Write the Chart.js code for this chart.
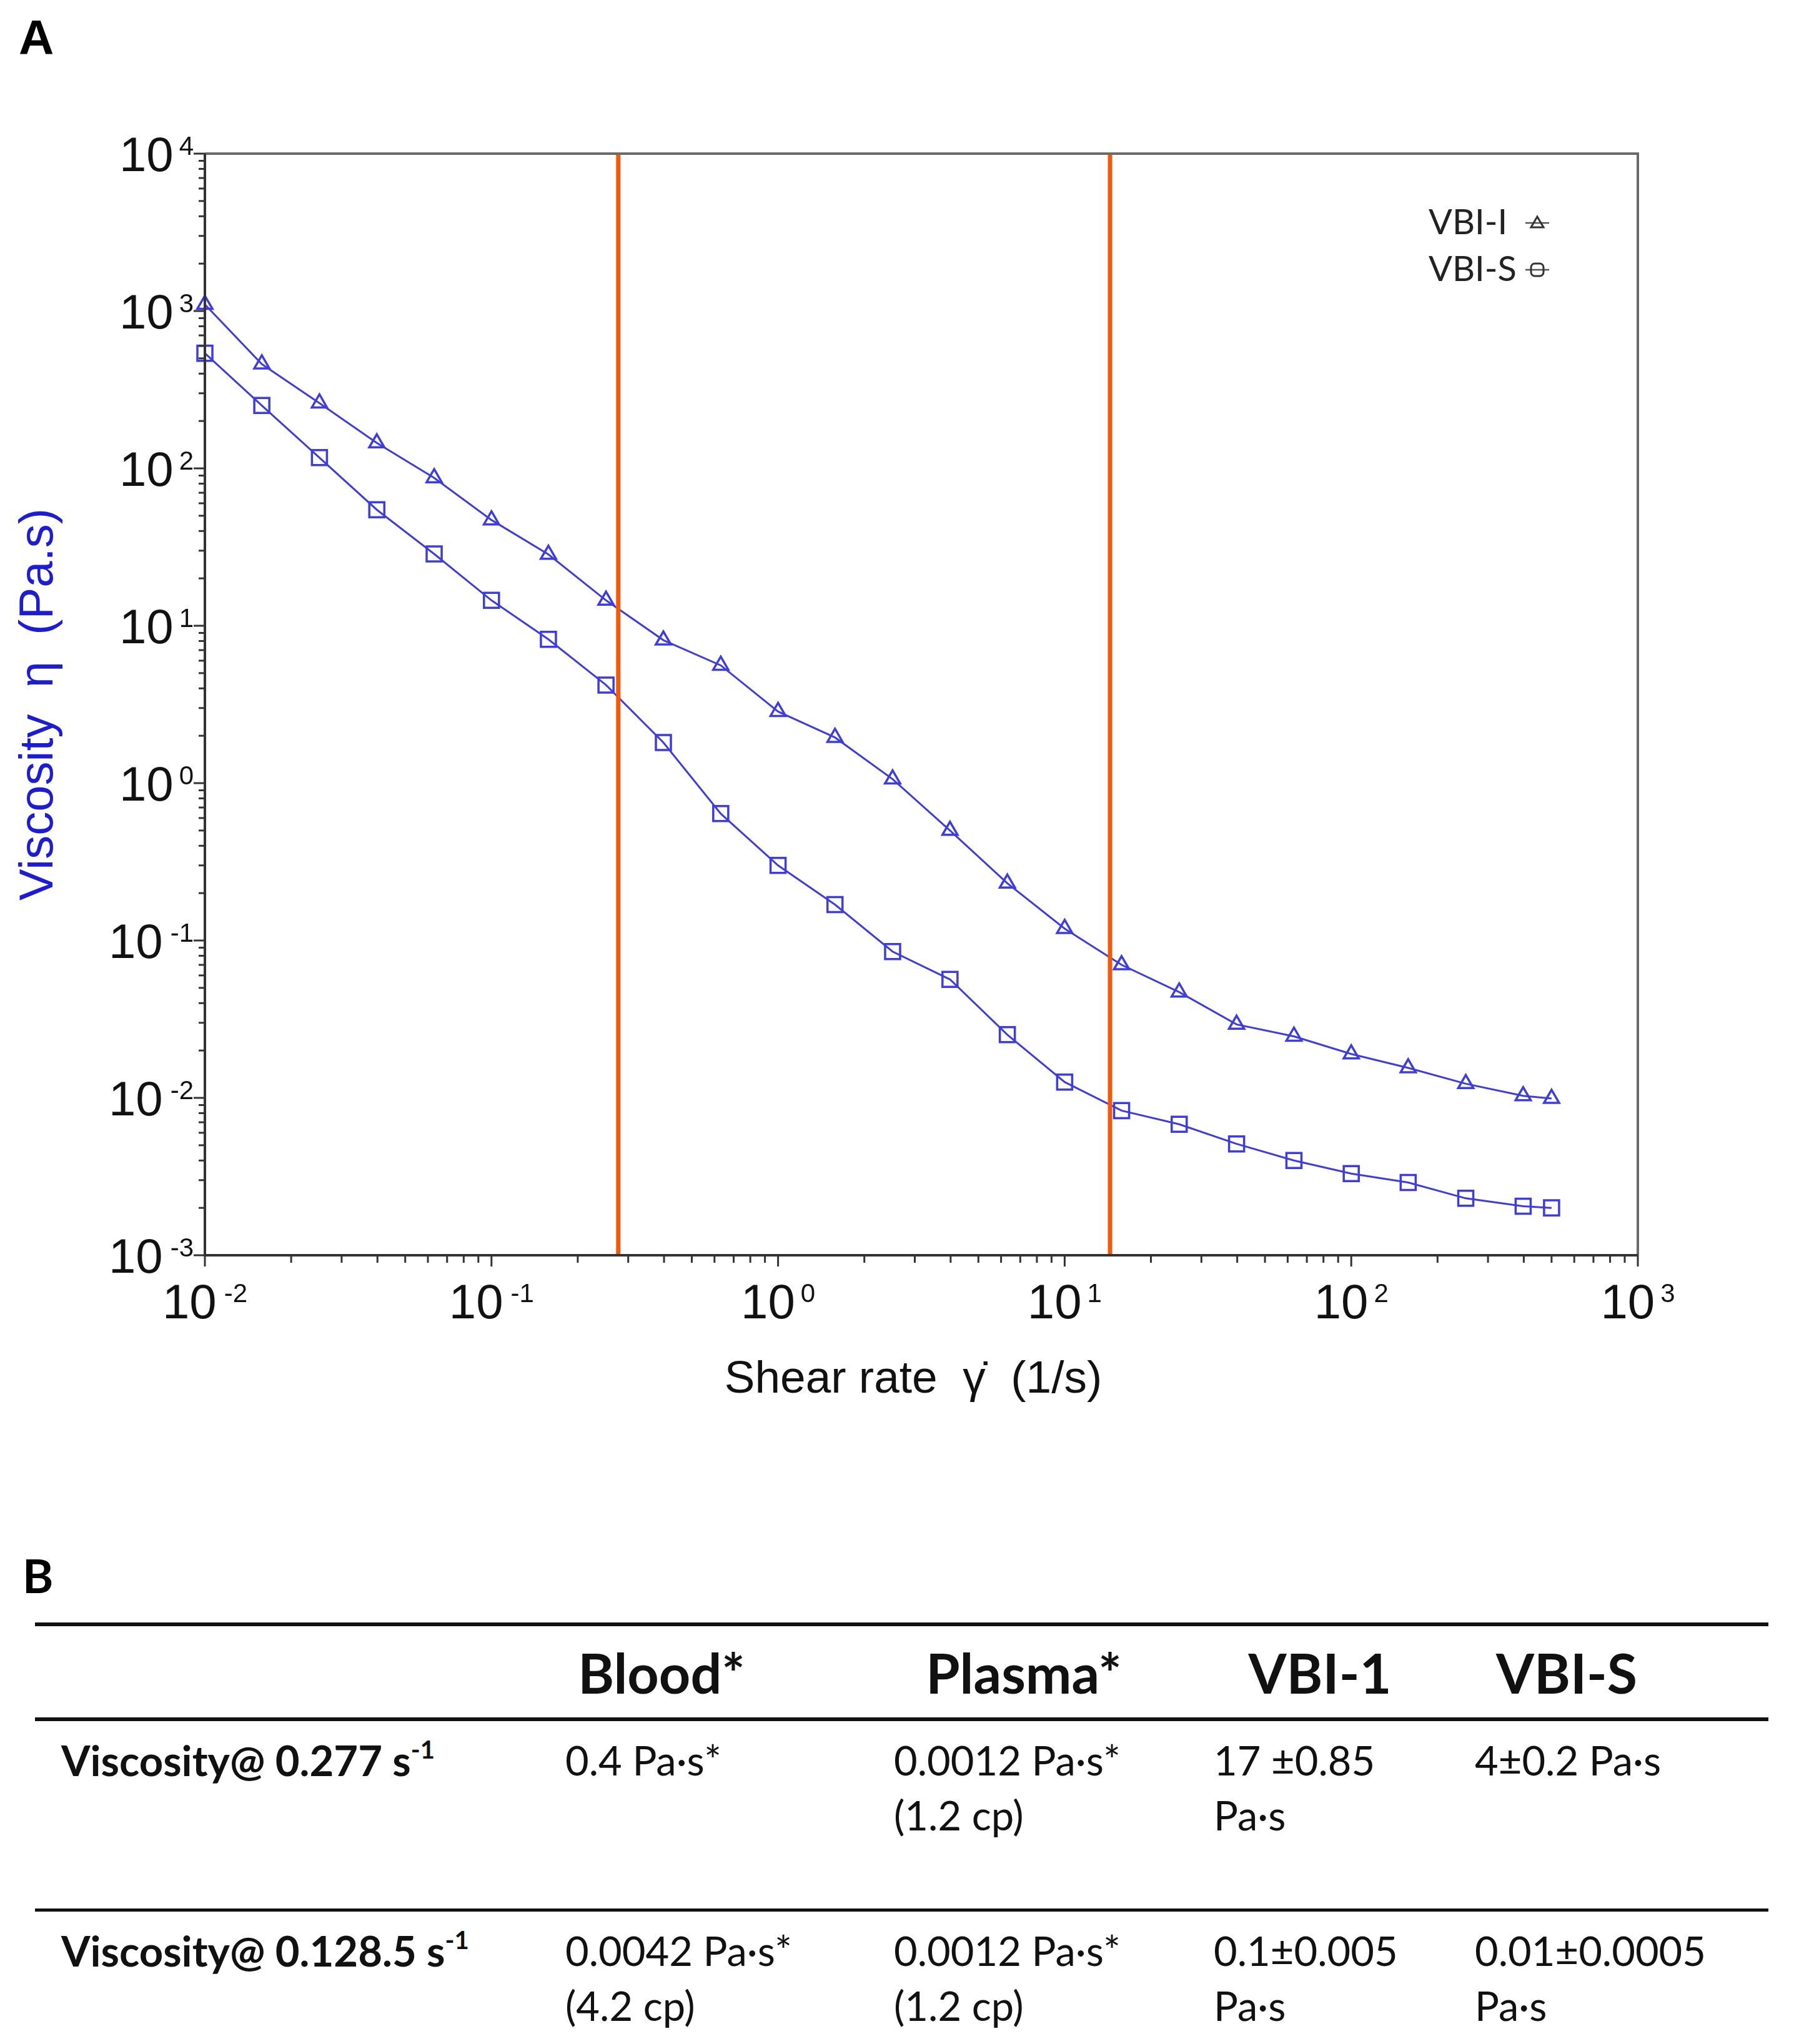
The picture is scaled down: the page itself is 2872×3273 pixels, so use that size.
<!DOCTYPE html>
<html>
<head>
<meta charset="utf-8">
<script src="https://cdn.jsdelivr.net/npm/chart.js@4.4.0/dist/chart.umd.min.js"></script>
<style>
  body { margin: 0; background: #fff; width: 2872px; height: 3273px; position: relative; overflow: hidden; }
  #chart-space { position: absolute; left: 0; top: 0; }
  .panel { position: absolute; font-family: "Liberation Sans", Arial, sans-serif; font-weight: bold; font-size: 78px; line-height: 78px; color: #000; }
  .panelB { font-family: Lato, "Open Sans", sans-serif; font-size: 75px; line-height: 75px; }
  .rule { position: absolute; left: 56px; width: 2775px; background: #111; }
  .cell { position: absolute; font-family: Lato, "Open Sans", sans-serif; font-size: 65px; line-height: 88px; color: #111; white-space: nowrap; }
  .head { font-weight: bold; font-size: 88px; line-height: 100px; transform: translateX(-50%); }
  .rowlabel { font-weight: bold; font-size: 67px; }
  sup { font-size: 0.6em; line-height: 0; vertical-align: 0.7em; }
</style>
</head>
<body>
<div class="panel" style="left:30px;top:21px;">A</div>
<canvas id="chart-space" width="2872" height="2330"></canvas>
<div class="panel panelB" style="left:36px;top:2485px;">B</div>
<div id="tbl"></div>

<script>
// shear rate sweep (1/s)
const shearRate = [0.01, 0.0158, 0.0251, 0.0398, 0.0631, 0.1, 0.158, 0.251, 0.398, 0.631,
  1, 1.58, 2.51, 3.98, 6.31, 10, 15.8, 25.1, 39.8, 63.1, 100, 158, 251, 398, 500];
// viscosity (Pa.s)
const vbiI = [1100, 460, 260, 145, 87, 47, 28.4, 14.5, 8.1, 5.6,
  2.85, 1.95, 1.06, 0.50, 0.231, 0.119, 0.070, 0.047, 0.0293, 0.0246, 0.0190, 0.0155, 0.0123, 0.0103, 0.0099];
const vbiS = [539, 251, 117, 54.6, 28.6, 14.5, 8.2, 4.2, 1.81, 0.64,
  0.30, 0.169, 0.085, 0.0566, 0.0252, 0.0126, 0.0083, 0.0068, 0.0051, 0.0040, 0.0033, 0.0029, 0.0023, 0.00205, 0.0020];
// vertical orange markers at the two rates in the table
const markerRates = [0.277, 14.4];

const xExponents = [-2, -1, 0, 1, 2, 3];
const yExponents = [-3, -2, -1, 0, 1, 2, 3, 4];

const seriesNames = ['VBI-I', 'VBI-S'];
const yTitle = 'Viscosity  \u03b7  (Pa.s)';
const xTitle = 'Shear rate  \u03b3\u0307  (1/s)';

// table B
const tableColumns = ['Blood*', 'Plasma*', 'VBI-1', 'VBI-S'];
const tableRowLabels = ['Viscosity@ 0.277 s<sup>-1</sup>', 'Viscosity@ 0.128.5 s<sup>-1</sup>'];
const bloodCells = [['0.4 Pa\u00b7s*'], ['0.0042 Pa\u00b7s*', '(4.2 cp)']];
const plasmaCells = [['0.0012 Pa\u00b7s*', '(1.2 cp)'], ['0.0012 Pa\u00b7s*', '(1.2 cp)']];
const vbi1Cells = [['17 \u00b10.85', 'Pa\u00b7s'], ['0.1\u00b10.005', 'Pa\u00b7s']];
const vbiSCells = [['4\u00b10.2 Pa\u00b7s'], ['0.01\u00b10.0005', 'Pa\u00b7s']];

const BLUE = '#3c3ce2';
const ORANGE = '#f05a0a';
const yMin = Math.pow(10, yExponents[0]);
const yMax = Math.pow(10, yExponents[yExponents.length - 1]);

function decadeTicks(exps) {
  const out = [];
  for (let i = 0; i < exps.length - 1; i++) {
    for (let m = 1; m <= 9; m++) out.push({ v: m * Math.pow(10, exps[i]), major: m === 1 });
  }
  out.push({ v: Math.pow(10, exps[exps.length - 1]), major: true });
  return out;
}

function powerLabel(ctx, exp, x, y, align) {
  const base = '10';
  const sup = exp < 0 ? '-' + Math.abs(exp) : String(exp);
  ctx.font = '78px "Liberation Sans", Arial, sans-serif';
  const bw = ctx.measureText(base).width;
  ctx.font = '42px "Liberation Sans", Arial, sans-serif';
  const sw = ctx.measureText(sup).width;
  const gap = exp < 0 ? 12 : 9;
  const total = bw + gap + sw;
  const left = align === 'right' ? x - total : x - total / 2;
  ctx.textAlign = 'left';
  ctx.textBaseline = 'alphabetic';
  ctx.font = '78px "Liberation Sans", Arial, sans-serif';
  ctx.fillText(base, left, y + 28);
  ctx.font = '42px "Liberation Sans", Arial, sans-serif';
  ctx.fillText(sup, left + bw + gap, y + 2);
}

const axisDecor = {
  id: 'axisDecor',
  afterDraw(chart) {
    const { ctx, chartArea: a, scales: { x, y } } = chart;
    ctx.save();
    ctx.fillStyle = '#111';
    ctx.strokeStyle = '#333';

    // ticks
    ctx.lineWidth = 3;
    decadeTicks(yExponents).forEach(t => {
      const py = y.getPixelForValue(t.v);
      ctx.beginPath();
      ctx.moveTo(a.left - (t.major ? 18 : 10), py);
      ctx.lineTo(a.left, py);
      ctx.stroke();
    });
    decadeTicks(xExponents).forEach(t => {
      const px = x.getPixelForValue(t.v);
      ctx.beginPath();
      ctx.moveTo(px, a.bottom);
      ctx.lineTo(px, a.bottom + (t.major ? 18 : 12));
      ctx.stroke();
    });

    // frame
    ctx.lineWidth = 4;
    ctx.strokeStyle = '#6a6a6a';
    ctx.beginPath();
    ctx.moveTo(a.left, a.top);
    ctx.lineTo(a.right, a.top);
    ctx.lineTo(a.right, a.bottom);
    ctx.stroke();
    ctx.strokeStyle = '#333';
    ctx.beginPath();
    ctx.moveTo(a.left, a.top);
    ctx.lineTo(a.left, a.bottom);
    ctx.lineTo(a.right, a.bottom);
    ctx.stroke();

    // tick labels
    yExponents.forEach(e => powerLabel(ctx, e, a.left - 18, y.getPixelForValue(Math.pow(10, e)), 'right'));
    xExponents.forEach(e => powerLabel(ctx, e, x.getPixelForValue(Math.pow(10, e)), a.bottom + 73, 'center'));

    // axis titles
    ctx.textAlign = 'center';
    ctx.textBaseline = 'middle';
    ctx.font = '73px "Liberation Sans", Arial, sans-serif';
    ctx.fillText(xTitle, (a.left + a.right) / 2 - 13, a.bottom + 200);
    ctx.save();
    ctx.translate(63, (a.top + a.bottom) / 2);
    ctx.rotate(-Math.PI / 2);
    ctx.fillStyle = '#1c1cd6';
    ctx.font = '76px "Liberation Sans", Arial, sans-serif';
    ctx.fillText(yTitle, 0, 0);
    ctx.restore();

    // legend (text, then marker on the right)
    ctx.font = '56px Lato, "Open Sans", sans-serif';
    ctx.textAlign = 'left';
    ctx.textBaseline = 'middle';
    ctx.fillStyle = '#222';
    seriesNames.forEach((name, i) => {
      const ly = 357 + i * 75;
      ctx.fillText(name, 2287, ly);
      ctx.strokeStyle = '#555';
      ctx.lineWidth = 2.5;
      ctx.beginPath();
      ctx.moveTo(2442, ly);
      ctx.lineTo(2480, ly);
      ctx.stroke();
      ctx.lineWidth = 3;
      ctx.strokeStyle = '#333';
      ctx.beginPath();
      if (i === 0) {
        ctx.moveTo(2461, ly - 10);
        ctx.lineTo(2471, ly + 7);
        ctx.lineTo(2451, ly + 7);
        ctx.closePath();
      } else {
        ctx.roundRect(2451, ly - 10, 20, 20, 6);
      }
      ctx.stroke();
    });
    ctx.restore();
  }
};

const pts = vals => shearRate.map((r, i) => ({ x: r, y: vals[i] }));

new Chart(document.getElementById('chart-space'), {
  type: 'line',
  data: {
    datasets: [
      ...markerRates.map(r => ({
        label: 'marker ' + r,
        data: [{ x: r, y: yMin }, { x: r, y: yMax }],
        borderColor: ORANGE,
        borderWidth: 7,
        pointRadius: 0,
        order: 0
      })),
      {
        label: seriesNames[0],
        data: pts(vbiI),
        borderColor: BLUE,
        borderWidth: 3,
        pointStyle: 'triangle',
        pointRadius: 14,
        pointBorderWidth: 3.5,
        pointBorderColor: BLUE,
        pointBackgroundColor: 'rgba(0,0,0,0)',
        clip: false,
        order: 1
      },
      {
        label: seriesNames[1],
        data: pts(vbiS),
        borderColor: BLUE,
        borderWidth: 3,
        pointStyle: 'rect',
        pointRadius: 17,
        pointBorderWidth: 3.5,
        pointBorderColor: BLUE,
        pointBackgroundColor: 'rgba(0,0,0,0)',
        clip: false,
        order: 1
      }
    ]
  },
  options: {
    responsive: false,
    animation: false,
    devicePixelRatio: 1,
    layout: { padding: { left: 328, right: 250, top: 246, bottom: 320 } },
    plugins: { legend: { display: false }, tooltip: { enabled: false } },
    scales: {
      x: { type: 'logarithmic', display: false, min: Math.pow(10, xExponents[0]), max: Math.pow(10, xExponents[xExponents.length - 1]) },
      y: { type: 'logarithmic', display: false, min: yMin, max: yMax }
    }
  },
  plugins: [axisDecor]
});

// table B
(function buildTable() {
  const tbl = document.getElementById('tbl');
  const add = (html, cls, left, top) => {
    const d = document.createElement('div');
    d.className = cls;
    d.style.left = left + 'px';
    d.style.top = top + 'px';
    d.innerHTML = html;
    tbl.appendChild(d);
  };
  [[2598, 6], [2750, 6], [3056, 5]].forEach(([t, h]) => {
    const r = document.createElement('div');
    r.className = 'rule';
    r.style.top = t + 'px';
    r.style.height = h + 'px';
    tbl.appendChild(r);
  });
  const headCenters = [1059, 1639, 2113, 2508];
  tableColumns.forEach((c, i) => add(c, 'cell head', headCenters[i], 2628));
  const colLefts = [905, 1431, 1943, 2361];
  const rowTops = [2774, 3079];
  const cols = [bloodCells, plasmaCells, vbi1Cells, vbiSCells];
  tableRowLabels.forEach((lab, r) => {
    add(lab, 'cell rowlabel', 98, rowTops[r]);
    cols.forEach((col, c) => {
      col[r].forEach((line, k) => add(line, 'cell', colLefts[c], rowTops[r] + k * 88));
    });
  });
})();
</script>
</body>
</html>
